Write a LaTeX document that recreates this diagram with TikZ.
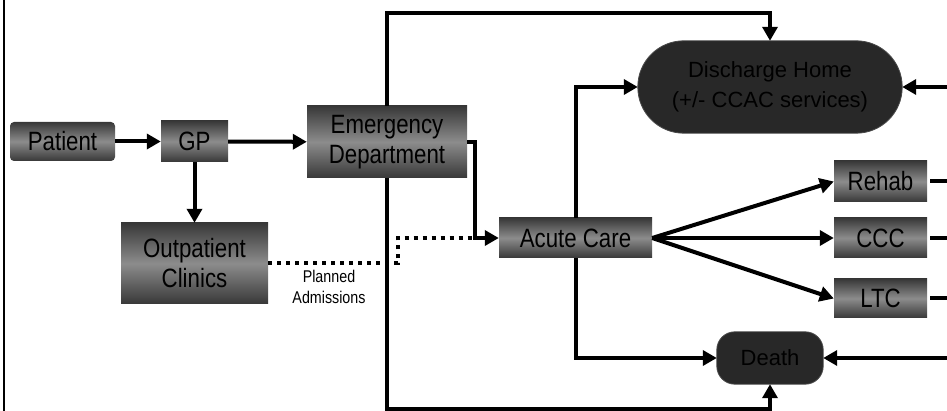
\documentclass[tikz,border=0pt]{standalone}
\usepackage{fontspec}
\usepackage{graphicx}
\setmainfont{Liberation Sans}
\usetikzlibrary{arrows.meta}
\definecolor{boxdark}{HTML}{383838}
\definecolor{boxlight}{HTML}{8C8C8C}
\definecolor{enddark}{HTML}{282828}
\definecolor{endedge}{HTML}{4A4A4A}
% condensed lettering: each line squeezed horizontally
\newcommand{\cond}[1]{\scalebox{0.84}[1]{#1}}
\begin{document}
\begin{tikzpicture}[x=1pt,y=-1pt,
  boxtext/.style={font=\fontsize{26.5}{30}\selectfont, align=center, inner sep=0pt, text=black},
  stage/.style={boxtext, top color=boxdark, bottom color=boxdark, middle color=boxlight},
  capsule/.style={fill=enddark, draw=endedge, line width=0.8pt},
  capsuletext/.style={boxtext, font=\fontsize{22}{30}\selectfont},
  flow/.style={line width=4pt, -{Triangle[length=14pt,width=15pt]}},
  plain/.style={line width=4pt},
  planned/.style={line width=4pt, dash pattern=on 4pt off 5pt},
  note/.style={font=\fontsize{17}{21}\selectfont, align=center, inner sep=0pt}]
\useasboundingbox (0,0) rectangle (947,411);

% frame edge on the left
\coordinate (ftop) at (4,0);
\coordinate (fbot) at (4,411);
\draw[line width=2pt] (ftop) -- (fbot);
% right rim where the return lines leave the page
\coordinate (rim) at (947,0);

% stages
\node[stage, rounded corners=4pt, minimum width=105pt, minimum height=39pt] (patient) at (62.5,141.5) {\cond{Patient}};
\node[stage, minimum width=67pt, minimum height=41pt] (gp) at (194.5,141.5) {\cond{GP}};
\node[stage, minimum width=160pt, minimum height=72pt] (ed) at (387,142) {\cond{Emergency}\\\cond{Department}};
\node[stage, minimum width=147pt, minimum height=81pt] (opc) at (194.5,263.5) {\cond{Outpatient}\\\cond{Clinics}};
\node[stage, minimum width=153pt, minimum height=40pt] (acute) at (575.5,238) {\cond{Acute Care}};
\node[stage, minimum width=93pt, minimum height=41pt] (rehab) at (880.5,181.5) {\cond{Rehab}};
\node[stage, minimum width=93pt, minimum height=40pt] (ccc) at (880.5,238) {\cond{CCC}};
\node[stage, minimum width=93pt, minimum height=39pt] (ltc) at (880.5,298.5) {\cond{LTC}};

% outcomes: dark capsules, lettering set on top
\node[capsuletext, minimum width=264pt, minimum height=92pt] (home) at (770,87) {};
\node[capsuletext, minimum width=106pt, minimum height=52pt] (death) at (770,358) {};
\path[capsule, rounded corners=46pt] (home.north west) rectangle (home.south east);
\path[capsule, rounded corners=18pt] (death.north west) rectangle (death.south east);
\node[capsuletext] (hometext) at (home.center) {Discharge Home\\(+/- CCAC services)};
\node[capsuletext] (deathtext) at (death.center) {Death};

% entry path
\draw[flow] (patient) -- (gp);
\draw[flow] (gp) -- (ed);
\draw[flow] (gp) -- (opc);

% emergency department outcomes
\coordinate (topline) at (387,13);
\coordinate (botline) at (387,409);
\draw[flow] (ed.north) -- (topline) -| (home.north);
\draw[flow] (ed.south) -- (botline) -| (death.south);
\coordinate (join) at (475,238);
\draw[flow] (ed.east) -| (join) -- (acute.west);

% planned admissions from clinics
\coordinate (pa1) at (398,263.5);
\coordinate (pa2) at (398,238);
\draw[planned] (opc.east) -- (pa1) -- (pa2) -- (join);
\node[note] (pa) at (329,286.5) {\cond{Planned}\\\cond{Admissions}};

% acute care outcomes
\draw[flow] (acute.north) |- (home.west);
\draw[flow] (acute.south) |- (death.west);
\draw[flow] (acute.east) -- (rehab.west);
\draw[flow] (acute.east) -- (ccc.west);
\draw[flow] (acute.east) -- (ltc.west);

% returns from post-acute care
\draw[plain, shorten <=3pt] (rehab.east) -- (rehab.east -| rim);
\draw[plain, shorten <=3pt] (ccc.east) -- (ccc.east -| rim);
\draw[plain, shorten <=3pt] (ltc.east) -- (ltc.east -| rim);
\draw[flow] (home.east -| rim) -- (home.east);
\draw[flow] (death.east -| rim) -- (death.east);
\end{tikzpicture}
\end{document}
